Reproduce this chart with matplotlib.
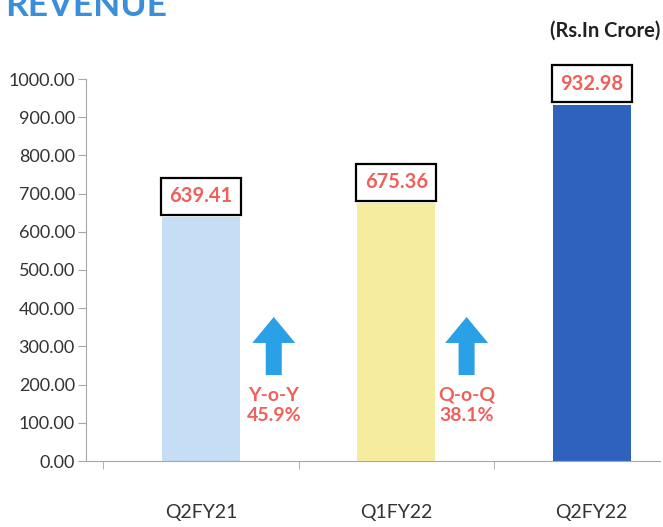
import matplotlib.pyplot as plt
import numpy as np

quarters = ['Q2FY21', 'Q1FY22', 'Q2FY22']
revenue = [639.41, 675.36, 932.98]
bar_colors = ['#c6ddf6', '#f6ec9d', '#2f62bf']
growth_labels = ['Y-o-Y\n45.9%', 'Q-o-Q\n38.1%']

red = '#f0605a'
arrow_blue = '#2aa0e6'
axis_gray = '#a6a6a6'

plt.rcParams['font.family'] = ['Lato', 'DejaVu Sans']

fig = plt.figure(figsize=(6.63, 5.27), dpi=100)
ax = fig.add_axes([86 / 663, 66 / 527, (660 - 86) / 663, (461 - 79) / 527])

x = np.arange(len(quarters))
ax.bar(x, revenue, width=0.40, color=bar_colors, lw=0)

# Value boxes above the bars
for xi, v in zip(x, revenue):
    ax.text(xi, v + 28, f'{v:.2f}', ha='center', va='bottom',
            fontsize=14.5, fontweight='bold', color=red, clip_on=False,
            bbox=dict(boxstyle='square,pad=0.42', fc='white',
                      ec='black', lw=1.6))

# Growth arrows and labels between bars
for xi, lbl in zip([0.373, 1.36], growth_labels):
    ax.arrow(xi, 225, 0, 152, width=0.082, head_width=0.22,
             head_length=68, length_includes_head=True,
             color=arrow_blue, lw=0)
    ax.text(xi, 145, lbl, ha='center', va='center', fontsize=14,
            fontweight='bold', color=red, linespacing=1.25)

ax.set_xlim(-0.588, 2.35)
ax.set_ylim(0, 1000)
ax.set_yticks(np.arange(0, 1001, 100))
ax.set_yticklabels([f'{t:.2f}' for t in np.arange(0, 1001, 100)],
                   fontsize=13, color='#333333')
ax.set_xticks(x)
ax.set_xticklabels(quarters, fontsize=14, color='#333333')
ax.set_xticks([-0.5, 0.5, 1.5], minor=True)

# Grid & Spines & Ticks
for s in ['top', 'right']:
    ax.spines[s].set_visible(False)
ax.spines['left'].set_color(axis_gray)
ax.spines['bottom'].set_color(axis_gray)
ax.tick_params(axis='y', length=6, color=axis_gray, pad=2)
ax.tick_params(axis='x', which='major', length=0, pad=31)
ax.tick_params(axis='x', which='minor', length=6, color=axis_gray)

fig.text(5 / 663, 1 - 16 / 527, 'REVENUE', fontsize=25.5, fontweight='bold',
         color='#3a8fd8', ha='left', va='baseline')
fig.text(660 / 663, 1 - 37 / 527, '(Rs.In Crore)', fontsize=14.5,
         fontweight='bold', color='#222222', ha='right', va='baseline')

fig.savefig('out.png', dpi=100, facecolor='white')
